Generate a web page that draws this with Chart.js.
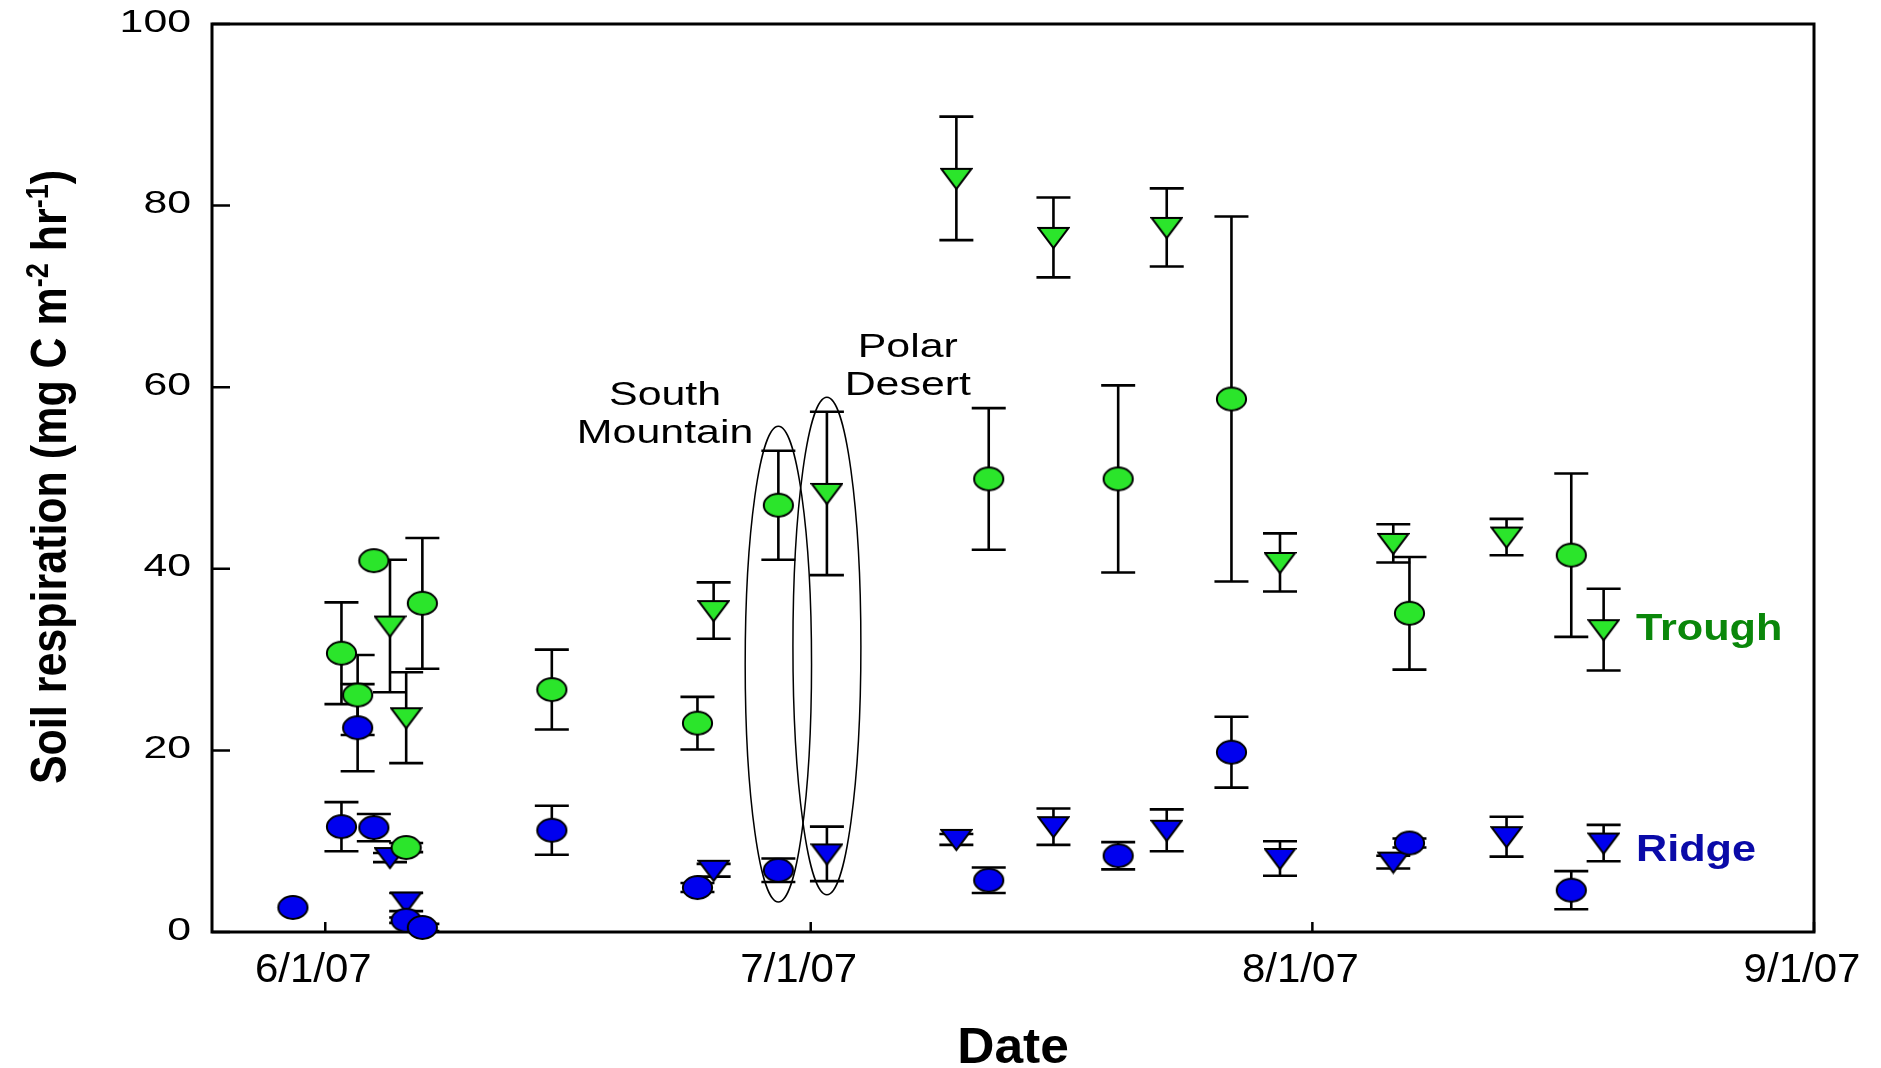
<!DOCTYPE html>
<html>
<head>
<meta charset="utf-8">
<title>Soil respiration</title>
<script src="https://cdn.jsdelivr.net/npm/chart.js@4.4.0/dist/chart.umd.min.js"></script>
<style>
    html, body { margin: 0; padding: 0; background: #fff; }
    canvas { display: block; }
</style>
</head>
<body>
<canvas id="soilChart" width="1881" height="1068"></canvas>
<script>
// axis labels
var xTickLabels = ['6/1/07', '7/1/07', '8/1/07', '9/1/07'];
var yTickValues = [0, 20, 40, 60, 80, 100];

// Trough, circles
var troughCircleDates = ['6/2/07', '6/3/07', '6/4/07', '6/6/07', '6/7/07', '6/15/07', '6/24/07', '6/29/07', '7/12/07', '7/20/07', '7/27/07', '8/7/07', '8/17/07'];
var troughCircleValues = [30.7, 26.1, 40.9, 9.3, 36.2, 26.7, 23.0, 47.0, 49.9, 49.9, 58.7, 35.1, 41.5];
var troughCircleErrors = [5.6, 4.4, 0, 0.5, 7.2, 4.4, 2.9, 6.0, 7.8, 10.3, 20.1, 6.2, 9.0];

// Trough, triangles
var troughTriangleDates = ['6/5/07', '6/6/07', '6/25/07', '7/2/07', '7/10/07', '7/16/07', '7/23/07', '7/30/07', '8/6/07', '8/13/07', '8/19/07'];
var troughTriangleValues = [33.7, 23.6, 35.4, 48.3, 83.0, 76.5, 77.6, 40.7, 42.8, 43.5, 33.3];
var troughTriangleErrors = [7.3, 5.0, 3.1, 9.0, 6.8, 4.4, 4.3, 3.2, 2.1, 2.0, 4.5];

// Ridge, circles
var ridgeCircleDates = ['5/30/07', '6/2/07', '6/3/07', '6/4/07', '6/6/07', '6/7/07', '6/15/07', '6/24/07', '6/29/07', '7/12/07', '7/20/07', '7/27/07', '8/7/07', '8/17/07'];
var ridgeCircleValues = [2.7, 11.6, 22.5, 11.5, 1.3, 0.5, 11.2, 4.9, 6.8, 5.7, 8.4, 19.8, 9.8, 4.6];
var ridgeCircleErrors = [0, 2.7, 4.8, 1.5, 0.3, 0.4, 2.7, 0.5, 1.3, 1.4, 1.5, 3.9, 0.5, 2.1];

// Ridge, triangles
var ridgeTriangleDates = ['6/5/07', '6/6/07', '6/25/07', '7/2/07', '7/10/07', '7/16/07', '7/23/07', '7/30/07', '8/6/07', '8/13/07', '8/19/07'];
var ridgeTriangleValues = [8.2, 3.3, 6.8, 8.6, 10.2, 11.6, 11.2, 8.1, 7.7, 10.5, 9.8];
var ridgeTriangleErrors = [0.5, 1.0, 0.7, 3.0, 0.6, 2.0, 2.3, 1.9, 0.7, 2.2, 2.0];

var GREEN = '#2be52b';
var BLUE = '#0000ee';
var FONT = '"Liberation Sans", Arial, sans-serif';

// days since 6/1/07
function dayOf(s) {
    var p = s.split('/');
    var t = Date.UTC(2000 + parseInt(p[2]), parseInt(p[0]) - 1, parseInt(p[1]));
    return Math.round((t - Date.UTC(2007, 5, 1)) / 86400000);
}

function makePoints(dates, values, errors) {
    return dates.map(function (d, i) {
        return { x: dayOf(d), y: values[i], e: errors[i] };
    });
}

function markerCircle(fill) {
    var c = document.createElement('canvas');
    c.width = 33; c.height = 27;
    var g = c.getContext('2d');
    g.beginPath();
    g.ellipse(16.5, 13.5, 14.6, 11.4, 0, 0, Math.PI * 2);
    g.fillStyle = fill;
    g.fill();
    g.lineWidth = 2;
    g.strokeStyle = '#000';
    g.stroke();
    return c;
}

function markerTriangle(fill) {
    var c = document.createElement('canvas');
    c.width = 33; c.height = 25;
    var g = c.getContext('2d');
    g.beginPath();
    g.moveTo(1.5, 3);
    g.lineTo(31.5, 3);
    g.lineTo(16.5, 23);
    g.closePath();
    g.fillStyle = fill;
    g.fill();
    g.lineWidth = 2;
    g.strokeStyle = '#000';
    g.stroke();
    return c;
}

// ellipses and notes, in data units
var ellipses = [
    { date: '6/29/07', halfDays: 2.05, top: 55.7, bottom: 3.3 },
    { date: '7/2/07', halfDays: 2.1, top: 58.9, bottom: 4.1 }
];
var notes = [
    { lines: ['South', 'Mountain'], date: '6/22/07', value: 59.0, align: 'center', color: '#000', bold: false },
    { lines: ['Polar', 'Desert'], date: '7/7/07', value: 64.3, align: 'center', color: '#000', bold: false },
    { lines: ['Trough'], date: '8/21/07', value: 33.3, align: 'left', color: '#0a870a', bold: true },
    { lines: ['Ridge'], date: '8/21/07', value: 8.9, align: 'left', color: '#0a0aa8', bold: true }
];

function stretchText(g, text, x, y, font, sx, align, color) {
    g.save();
    g.font = font;
    g.fillStyle = color || '#000';
    g.textBaseline = 'middle';
    g.textAlign = 'left';
    var w = g.measureText(text).width * sx;
    var left = align === 'center' ? x - w / 2 : (align === 'right' ? x - w : x);
    g.translate(left, y);
    g.scale(sx, 1);
    g.fillText(text, 0, 0);
    g.restore();
}

var framePlugin = {
    id: 'frame',
    beforeDatasetsDraw: function (chart) {
        var g = chart.ctx, a = chart.chartArea;
        var xs = chart.scales.x, ys = chart.scales.y;
        g.save();
        g.strokeStyle = '#000';
        g.lineWidth = 3;
        g.strokeRect(a.left, a.top, a.right - a.left, a.bottom - a.top);
        g.lineWidth = 2.5;
        g.beginPath();
        yTickValues.forEach(function (v) {
            var py = ys.getPixelForValue(v);
            g.moveTo(a.left, py);
            g.lineTo(a.left + 18, py);
        });
        xTickLabels.forEach(function (l) {
            var px = xs.getPixelForValue(dayOf(l));
            g.moveTo(px, a.bottom);
            g.lineTo(px, a.bottom - 10);
        });
        g.stroke();
        g.restore();

        // tick labels
        yTickValues.forEach(function (v) {
            stretchText(g, String(v), 191, ys.getPixelForValue(v) - 1, '31px ' + FONT, 1.38, 'right');
        });
        xTickLabels.forEach(function (l) {
            stretchText(g, l, xs.getPixelForValue(dayOf(l)) - 12, 971, '40px ' + FONT, 1.05, 'center');
        });

        // axis titles
        stretchText(g, 'Date', (a.left + a.right) / 2, 1049, 'bold 50px ' + FONT, 1.03, 'center');

        var parts = [['Soil respiration (mg C m', false], ['-2', true], [' hr', false], ['-1', true], [')', false]];
        var big = 'bold 43px ' + FONT, small = 'bold 27px ' + FONT;
        var total = 0;
        parts.forEach(function (p) {
            g.font = p[1] ? small : big;
            total += g.measureText(p[0]).width;
        });
        g.save();
        g.translate(66, 477);
        g.rotate(-Math.PI / 2);
        g.scale(1, 1.15);
        g.fillStyle = '#000';
        g.textBaseline = 'alphabetic';
        var cx = -total / 2;
        parts.forEach(function (p) {
            g.font = p[1] ? small : big;
            g.fillText(p[0], cx, p[1] ? -16 : 0);
            cx += g.measureText(p[0]).width;
        });
        g.restore();
    }
};

var errorBarPlugin = {
    id: 'errorBars',
    beforeDatasetsDraw: function (chart) {
        var g = chart.ctx;
        var xs = chart.scales.x, ys = chart.scales.y;
        g.save();
        g.strokeStyle = '#000';
        g.lineWidth = 2.6;
        chart.data.datasets.forEach(function (ds) {
            ds.data.forEach(function (p) {
                if (!p.e) return;
                var px = xs.getPixelForValue(p.x);
                var top = ys.getPixelForValue(p.y + p.e);
                var bot = ys.getPixelForValue(p.y - p.e);
                g.beginPath();
                g.moveTo(px, top); g.lineTo(px, bot);
                g.moveTo(px - 17, top); g.lineTo(px + 17, top);
                g.moveTo(px - 17, bot); g.lineTo(px + 17, bot);
                g.stroke();
            });
        });
        g.restore();
    }
};

var notePlugin = {
    id: 'notes',
    afterDatasetsDraw: function (chart) {
        var g = chart.ctx;
        var xs = chart.scales.x, ys = chart.scales.y;
        g.save();
        g.strokeStyle = '#000';
        g.lineWidth = 1.5;
        ellipses.forEach(function (el) {
            var d = dayOf(el.date);
            var cx = xs.getPixelForValue(d);
            var rx = xs.getPixelForValue(d + el.halfDays) - cx;
            var t = ys.getPixelForValue(el.top), b = ys.getPixelForValue(el.bottom);
            g.beginPath();
            g.ellipse(cx, (t + b) / 2, rx, (b - t) / 2, 0, 0, Math.PI * 2);
            g.stroke();
        });
        g.restore();
        notes.forEach(function (n) {
            var px = xs.getPixelForValue(dayOf(n.date));
            var py = ys.getPixelForValue(n.value);
            n.lines.forEach(function (line, i) {
                if (n.bold) {
                    stretchText(g, line, px, py + i * 38, 'bold 36px ' + FONT, 1.2, n.align, n.color);
                } else {
                    stretchText(g, line, px, py + i * 38, '33px ' + FONT, 1.3, n.align, n.color);
                }
            });
        });
    }
};

var datasetBase = { showLine: false, pointRadius: 12, pointBorderWidth: 0, clip: false };

var ctx = document.getElementById('soilChart').getContext('2d');
var soilChart = new Chart(ctx, {
    type: 'scatter',
    data: {
        datasets: [
            Object.assign({ label: 'Trough circle', data: makePoints(troughCircleDates, troughCircleValues, troughCircleErrors), pointStyle: markerCircle(GREEN) }, datasetBase),
            Object.assign({ label: 'Trough triangle', data: makePoints(troughTriangleDates, troughTriangleValues, troughTriangleErrors), pointStyle: markerTriangle(GREEN) }, datasetBase),
            Object.assign({ label: 'Ridge circle', data: makePoints(ridgeCircleDates, ridgeCircleValues, ridgeCircleErrors), pointStyle: markerCircle(BLUE) }, datasetBase),
            Object.assign({ label: 'Ridge triangle', data: makePoints(ridgeTriangleDates, ridgeTriangleValues, ridgeTriangleErrors), pointStyle: markerTriangle(BLUE) }, datasetBase)
        ]
    },
    options: {
        responsive: false,
        animation: false,
        devicePixelRatio: 1,
        layout: { padding: { left: 212, top: 24, right: 67, bottom: 136 } },
        plugins: { legend: { display: false }, tooltip: { enabled: false } },
        scales: {
            x: { type: 'linear', display: false, min: dayOf('5/25/07'), max: dayOf('9/1/07') },
            y: { type: 'linear', display: false, min: 0, max: 100 }
        }
    },
    plugins: [framePlugin, errorBarPlugin, notePlugin]
});
</script>
</body>
</html>
